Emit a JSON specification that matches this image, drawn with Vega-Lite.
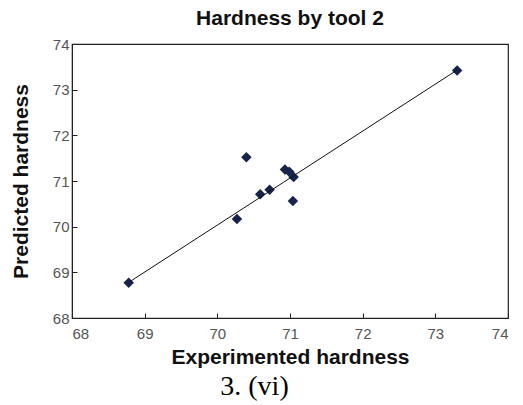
{
  "$schema": "https://vega.github.io/schema/vega-lite/v6.json",
  "width": 436,
  "height": 274,
  "autosize": "none",
  "padding": {"left": 72, "top": 44, "right": 15, "bottom": 87},
  "background": "white",
  "title": {
    "text": "Hardness by  tool 2",
    "font": "Liberation Sans",
    "fontSize": 21,
    "fontWeight": "bold",
    "color": "#111",
    "offset": 8
  },
  "config": {
    "view": {"stroke": "#222", "strokeWidth": 1.2},
    "axis": {
      "grid": false,
      "labelFont": "Liberation Sans",
      "labelFontSize": 15,
      "labelColor": "#555",
      "tickColor": "#222",
      "domainColor": "#222",
      "tickSize": -5,
      "titleFont": "Liberation Sans",
      "titleFontSize": 21,
      "titleFontWeight": "bold",
      "titleColor": "#111"
    }
  },
  "datasets": {
    "pts": [
      {"exp": 68.78, "pred": 68.77},
      {"exp": 70.27, "pred": 70.17},
      {"exp": 70.4, "pred": 71.52},
      {"exp": 70.59, "pred": 70.71},
      {"exp": 70.72, "pred": 70.81},
      {"exp": 70.93, "pred": 71.25},
      {"exp": 70.99, "pred": 71.2},
      {"exp": 71.05, "pred": 71.09},
      {"exp": 71.04, "pred": 70.56},
      {"exp": 73.3, "pred": 73.42}
    ],
    "fit": [
      {"exp": 68.8, "pred": 68.8},
      {"exp": 73.3, "pred": 73.43}
    ]
  },
  "layer": [
    {
      "data": {"name": "pts"},
      "mark": {"type": "point", "shape": "diamond", "filled": true, "color": "#16234f", "size": 110, "opacity": 1},
      "encoding": {
        "x": {
          "field": "exp", "type": "quantitative",
          "scale": {"domain": [68, 74], "nice": false, "zero": false},
          "axis": {"orient": "bottom", "title": "Experimented hardness", "values": [68, 69, 70, 71, 72, 73, 74], "labelPadding": 13, "titlePadding": 5}
        },
        "y": {
          "field": "pred", "type": "quantitative",
          "scale": {"domain": [68, 74], "nice": false, "zero": false},
          "axis": {"orient": "left", "title": "Predicted hardness", "values": [68, 69, 70, 71, 72, 73, 74], "labelPadding": 8, "titlePadding": 21}
        }
      }
    },
    {
      "data": {"name": "fit"},
      "mark": {"type": "line", "color": "#111", "strokeWidth": 1},
      "encoding": {
        "x": {
          "field": "exp", "type": "quantitative",
          "scale": {"domain": [68, 74], "nice": false, "zero": false},
          "axis": {
            "orient": "bottom",
            "title": "3. (vi)",
            "labels": false, "ticks": false, "domain": false,
            "titleFont": "Liberation Serif",
            "titleFontSize": 28,
            "titleFontWeight": "normal",
            "titleColor": "#000",
            "titleX": 182,
            "titleY": 54
          }
        },
        "y": {
          "field": "pred", "type": "quantitative",
          "scale": {"domain": [68, 74], "nice": false, "zero": false}
        }
      }
    }
  ],
  "resolve": {"axis": {"x": "independent"}}
}
